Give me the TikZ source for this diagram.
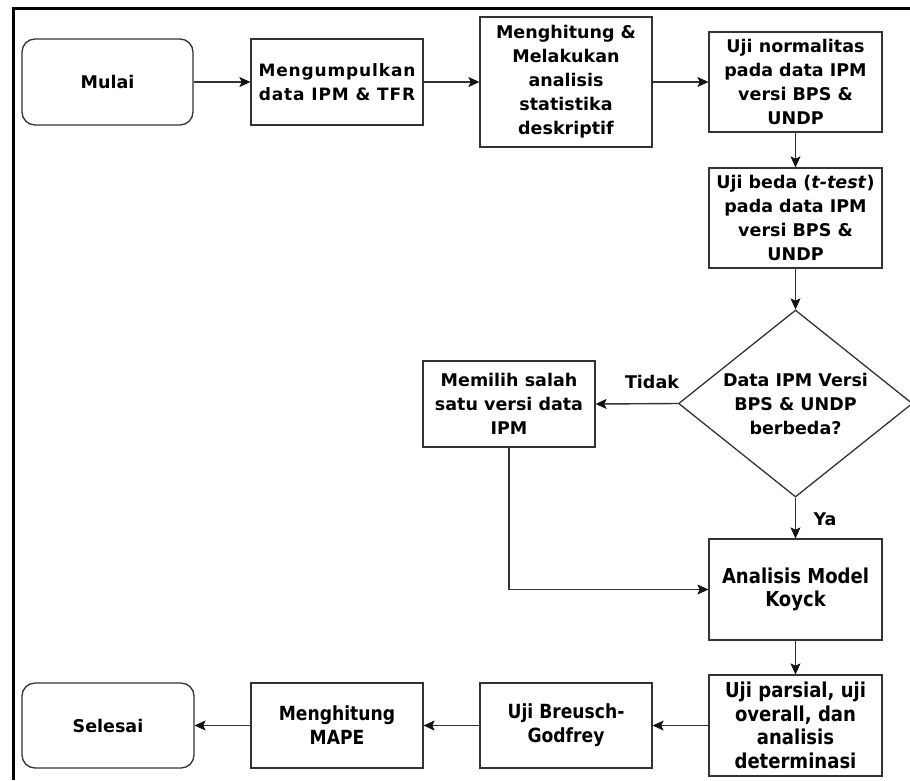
\documentclass[tikz,border=0pt]{standalone}
\usepackage{fontspec}
\setmainfont{DejaVu Sans}
\newfontfamily\condfont[FakeStretch=0.88]{DejaVu Sans}
\newfontfamily\spacedfont[LetterSpace=5]{DejaVu Sans}
\usetikzlibrary{arrows.meta,shapes.geometric}
\definecolor{edgegray}{HTML}{333333}
\definecolor{headgray}{HTML}{111111}
\tikzset{
  base/.style={draw=edgegray, line width=1.3pt, align=center, inner sep=0pt,
    font=\fontsize{17.5}{24}\selectfont\bfseries},
  boxnode/.style={base, rectangle},
  roundnode/.style={base, rectangle, rounded corners=13pt},
  spacedbox/.style={boxnode, font=\spacedfont\fontsize{17}{24}\selectfont\bfseries},
  condbox/.style={boxnode, font=\condfont\fontsize{20.5}{23.5}\selectfont\bfseries},
  condsmall/.style={boxnode, font=\condfont\fontsize{19.5}{24}\selectfont\bfseries},
  decnode/.style={base, diamond, shape aspect=1.25},
  flow/.style={draw=edgegray, line width=1.4pt,
    -{Stealth[length=11pt,width=10pt,inset=2.5pt,color=headgray,fill=headgray,line width=0.6pt]}},
  lbl/.style={font=\fontsize{17.5}{24}\selectfont\bfseries, inner sep=0pt}
}
\begin{document}
\begin{tikzpicture}[x=1pt,y=-1pt]
\useasboundingbox (0,0) rectangle (910,780);
% frame
\draw[line width=3pt, black] (13,780) -- (13,8.5) -- (910,8.5);
% nodes
\node[roundnode, minimum width=171pt, minimum height=86pt] (mulai) at (107.5,82) {Mulai};
\node[spacedbox, minimum width=172pt, minimum height=86pt] (kumpul) at (337,82) {Mengumpulkan\\data IPM \& TFR};
\node[boxnode, minimum width=172pt, minimum height=130pt] (hitung) at (566,82) {Menghitung \&\\Melakukan\\analisis\\statistika\\deskriptif};
\node[boxnode, minimum width=173pt, minimum height=100pt] (normal) at (795.5,82) {Uji normalitas\\pada data IPM\\versi BPS \&\\UNDP};
\node[boxnode, minimum width=173pt, minimum height=100pt] (beda) at (795.5,218) {Uji beda (\textit{t-test})\\pada data IPM\\versi BPS \&\\UNDP};
\node[decnode, minimum width=234pt, minimum height=187pt] (dec) at (795.5,403.5) {Data IPM Versi\\BPS \& UNDP\\berbeda?};
\node[boxnode, minimum width=172pt, minimum height=86pt] (memilih) at (509,404) {Memilih salah\\satu versi data\\IPM};
\node[condbox, minimum width=173pt, minimum height=101pt] (koyck) at (795.5,589.5) {Analisis Model\\Koyck};
\node[condbox, minimum width=173pt, minimum height=101pt] (parsial) at (795.5,725.5) {Uji parsial, uji\\overall, dan\\analisis\\determinasi};
\node[condsmall, minimum width=172pt, minimum height=85pt] (breusch) at (566,725.5) {Uji Breusch-\\Godfrey};
\node[condsmall, minimum width=172pt, minimum height=85pt] (mape) at (337,725.5) {Menghitung\\MAPE};
\node[roundnode, minimum width=172pt, minimum height=85pt] (selesai) at (108,725.5) {Selesai};
% labels
\node[lbl] (tidak) at (652,382) {Tidak};
\node[lbl] (ya) at (825,519) {Ya};
% connectors
\draw[flow] (mulai) -- (kumpul);
\draw[flow] (kumpul) -- (hitung);
\draw[flow] (hitung) -- (normal);
\draw[flow] (normal) -- (beda);
\draw[flow] (beda) -- (dec.north);
\draw[flow] (dec.west) -- (memilih.east);
\draw[flow] (dec.south) -- (koyck.north);
\draw[flow] (memilih.south) |- (koyck.west);
\draw[flow] (koyck) -- (parsial);
\draw[flow] (parsial) -- (breusch);
\draw[flow] (breusch) -- (mape);
\draw[flow] (mape) -- (selesai);
\end{tikzpicture}
\end{document}
